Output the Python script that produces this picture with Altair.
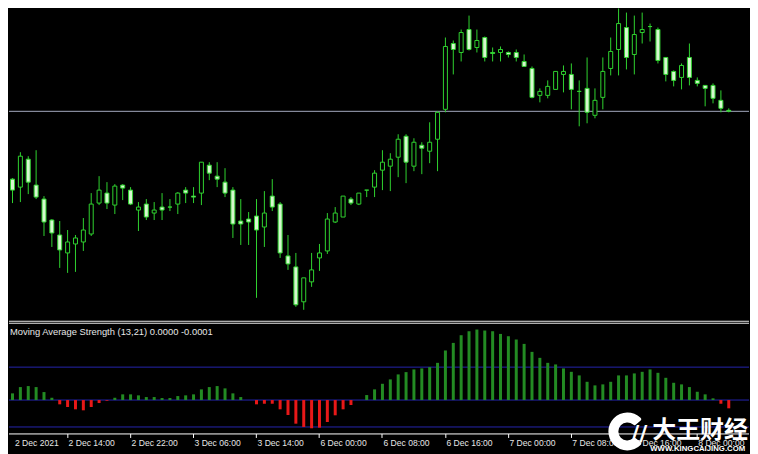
import altair as alt
import pandas as pd

# ---- candle data (price in chart points, hourly bars) ----
open_ = [141, 133, 161, 135, 121, 100, 85, 67, 76, 78,
         86, 117, 127, 115, 135, 130, 110, 116, 107, 113,
         113, 116, 130, 124, 127, 155, 144, 138, 130, 99,
         101, 104, 93, 124, 116, 64, 53, 18, 38, 62,
         69, 98, 103, 121, 116, 130, 133, 150, 154, 163,
         184, 154, 175, 169, 181, 211, 277, 268, 291, 273,
         283, 268, 268, 268, 268, 259, 252, 225, 225, 231,
         246, 246, 229, 232, 205, 223, 252, 271, 293, 266,
         288, 294, 291, 263, 249, 243, 263, 240, 235, 235,
         220, 210]
high = [142, 168, 164, 170, 124, 101, 99, 90, 85, 102,
        127, 144, 138, 136, 136, 133, 118, 121, 118, 127,
        121, 128, 133, 133, 158, 158, 158, 152, 133, 121,
        108, 121, 129, 141, 118, 85, 67, 42, 67, 76,
        107, 113, 124, 123, 127, 130, 150, 170, 167, 186,
        186, 182, 178, 198, 209, 283, 280, 291, 305, 291,
        284, 273, 274, 269, 271, 266, 254, 232, 240, 249,
        255, 257, 240, 263, 232, 263, 283, 322, 308, 305,
        308, 297, 293, 263, 250, 257, 277, 243, 235, 237,
        230, 212]
low = [117, 118, 126, 121, 84, 73, 52, 47, 48, 69,
       84, 115, 111, 106, 120, 115, 89, 100, 100, 100,
       109, 106, 117, 117, 115, 140, 133, 123, 82, 75,
       75, 22, 73, 109, 62, 50, 13, 10, 33, 49,
       66, 97, 103, 115, 115, 123, 123, 130, 129, 143,
       137, 149, 146, 157, 149, 208, 246, 259, 270, 268,
       259, 259, 259, 263, 259, 254, 222, 218, 222, 231,
       228, 211, 194, 197, 202, 211, 245, 245, 251, 246,
       277, 279, 257, 239, 234, 231, 235, 234, 214, 217,
       208, 208]
close = [130, 164, 138, 123, 98, 87, 70, 78, 82, 90,
         116, 130, 117, 134, 132, 116, 113, 103, 110, 110,
         113, 127, 127, 123, 158, 147, 141, 127, 96, 96,
         98, 90, 107, 113, 67, 56, 15, 42, 50, 67,
         101, 107, 124, 117, 127, 130, 147, 158, 161, 181,
         158, 178, 172, 178, 208, 274, 271, 288, 271, 280,
         263, 267, 271, 266, 263, 254, 223, 229, 234, 249,
         249, 231, 229, 208, 220, 249, 269, 297, 263, 286,
         291, 294, 260, 246, 240, 255, 243, 237, 232, 222,
         212, 209]

# ---- Moving Average Strength histogram ----
strength = [6.7, 13, 14, 13, 8, 2.3, -4.3, -7, -9.3, -10.3,
            -7, -3, -0.7, 2.3, 5.7, 5.7, 4.7, 3, 3, 2,
            2, 4, 4.7, 5.7, 10.7, 13, 14, 11.7, 6.7, 3,
            0, -4.3, -3.7, -3.7, -9.3, -15, -23.7, -27, -28.3, -27.7,
            -22, -15.3, -9.3, -5, 0, 5, 10.7, 16.3, 20.7, 25.7,
            28, 30.7, 31.7, 33, 37.3, 49.7, 57.3, 65, 69, 70.7,
            69.7, 69, 66.3, 64, 60.7, 56.3, 48.3, 42.3, 37.3, 35.7,
            31.7, 28.3, 24.7, 18.3, 14.7, 15.7, 18.3, 24.7, 24.7, 26.7,
            28.3, 30.7, 27.3, 22.3, 17.3, 15.7, 13, 8.3, 5.7, 1.7,
            -3.7, -8.3]
levels = [33, 0, -27]

tick_idx = [-1, 7, 15, 23, 31, 39, 47, 55, 63, 71, 79, 87]
tick_labels = ["2 Dec 2021", "2 Dec 14:00", "2 Dec 22:00", "3 Dec 06:00",
               "3 Dec 14:00", "6 Dec 00:00", "6 Dec 08:00", "6 Dec 16:00",
               "7 Dec 00:00", "7 Dec 08:00", "7 Dec 16:00", "8 Dec 00:00"]
indicator_name = ["Moving Average Strength (13,21) 0.0000 -0.0001"]
watermark = ["大王财经"]
watermark_url = ["WWW.KINGCAIJING.COM"]

W, H = 742, 446
X0 = 0.1875
CANDLE = "#2fd22f"
BEAR_FILL = "#d6f7cf"
GREEN = "#238b23"
RED = "#e81818"
BLUE = "#2424ae"
BIDLINE = "#a3aabe"
WHITE = "#e6e6e6"
FONT = "Liberation Sans"

bars = pd.DataFrame({"i": list(range(len(close))), "open": open_, "high": high,
                     "low": low, "close": close, "strength": strength})
ticks = pd.DataFrame({"i": tick_idx, "label": tick_labels})

xs = alt.Scale(domain=[X0, X0 + W / 8], nice=False, zero=False)
ps = alt.Scale(domain=[-134, 312], nice=False, zero=False)
ss = alt.Scale(domain=[-53.5, 392.5], nice=False, zero=False)
xaxis = alt.Axis(values=tick_idx[1:], orient="bottom", offset=-19.5, translate=0,
                 labels=False, grid=False, title=None, domainColor="#ffffff",
                 tickColor="#ffffff", tickSize=4, domainWidth=1, tickWidth=1)
X = alt.X("i:Q", scale=xs, axis=xaxis)

base = alt.Chart(bars)

bid = alt.Chart(pd.DataFrame({"p": [close[-1]]})).mark_rule(
    color=BIDLINE, strokeWidth=1).encode(y=alt.Y("p:Q", scale=ps, axis=None))

wicks = base.mark_rule(color=CANDLE, strokeWidth=1, clip=True).encode(
    x=X, y=alt.Y("low:Q", scale=ps, axis=None), y2="high:Q")

bodies = base.mark_bar(size=4, stroke=CANDLE, strokeWidth=1, clip=True).encode(
    x=X, y=alt.Y("open:Q", scale=ps, axis=None), y2="close:Q",
    fill=alt.condition("datum.close < datum.open", alt.value(BEAR_FILL), alt.value("#000000")))

lvl = alt.Chart(pd.DataFrame({"lv": levels})).mark_rule(color=BLUE, strokeWidth=1).encode(
    y=alt.Y("lv:Q", scale=ss, axis=None))

hist = base.mark_bar(size=3).encode(
    x=X, y=alt.Y("strength:Q", scale=ss, axis=None), y2=alt.datum(0),
    color=alt.condition("datum.strength < 0", alt.value(RED), alt.value(GREEN)))

sep1 = alt.Chart(pd.DataFrame({"a": [0]})).mark_rule(color=WHITE, strokeWidth=1).encode(
    x=alt.value(0), x2=alt.value(W), y=alt.value(313.5))
sep2 = alt.Chart(pd.DataFrame({"a": [0]})).mark_rule(color=WHITE, strokeWidth=1).encode(
    x=alt.value(0), x2=alt.value(W), y=alt.value(315.5))

name = alt.Chart(pd.DataFrame({"t": indicator_name})).mark_text(
    align="left", baseline="alphabetic", font=FONT, fontSize=9.4, color=WHITE, clip=True
).encode(text="t:N", x=alt.value(1), y=alt.value(327))

# first label (left of the window edge) is kept flush with the left edge
tick_text = alt.Chart(ticks).transform_calculate(
    ix=f"max(datum.i, {X0})"
).mark_text(
    align="left", baseline="alphabetic", dx=1, font=FONT, fontSize=8.6, color=WHITE, clip=True
).encode(x=alt.X("ix:Q", scale=xs, axis=xaxis), y=alt.value(439), text="label:N")

# watermark logo: an open ring ("C") followed by two slashes and the name
wm_icon = alt.Chart(pd.DataFrame({"a": [0]})).mark_arc(
    radius=19, radius2=9, color="#ffffff", cornerRadius=2
).encode(x=alt.value(620), y=alt.value(424), theta=alt.value(2.25), theta2=alt.value(7.17))
wm_slash = alt.Chart(pd.DataFrame({"t": ["//"]})).mark_text(
    align="left", baseline="alphabetic", font="DejaVu Sans", fontWeight="bold",
    fontSize=22, color="#ffffff", clip=True
).encode(text="t:N", x=alt.value(624), y=alt.value(434))
wm_text = alt.Chart(pd.DataFrame({"t": watermark})).mark_text(
    align="left", baseline="alphabetic", font="Noto Sans CJK SC", fontWeight="bold",
    fontSize=24, color="#ffffff", clip=True
).encode(text="t:N", x=alt.value(645), y=alt.value(431))
wm_url = alt.Chart(pd.DataFrame({"t": watermark_url})).mark_text(
    align="left", baseline="alphabetic", font=FONT, fontWeight="bold",
    fontSize=7.8, color="#ffffff", clip=True
).encode(text="t:N", x=alt.value(643), y=alt.value(444))

chart = alt.layer(
    bid, wicks, bodies, lvl, hist, sep1, sep2, name, tick_text,
    wm_icon, wm_slash, wm_text, wm_url
).resolve_scale(y="independent").properties(
    width=W, height=H, padding=0, background="#000000"
).configure_view(stroke=None)

chart.save("out.html", embed_options={"renderer": "svg", "actions": False})
